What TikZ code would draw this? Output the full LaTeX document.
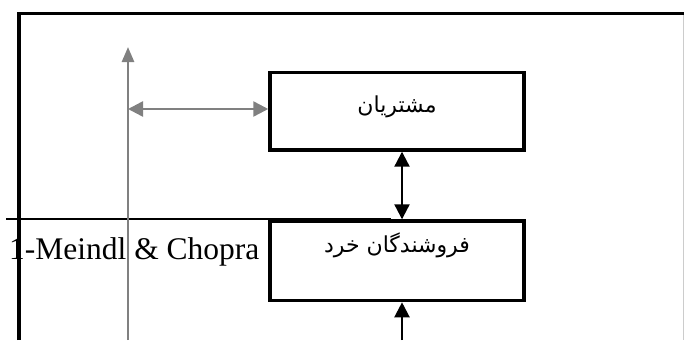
\documentclass[tikz,border=0pt]{standalone}
\usepackage{fontspec}
\setmainfont{Liberation Serif}
\newfontfamily\arabicfont[Script=Arabic]{DejaVu Sans}
\TeXXeTstate=1
\usetikzlibrary{arrows.meta}
\definecolor{linkgray}{HTML}{808080}
\tikzset{
  box/.style={draw=black, line width=3.5pt, minimum width=254pt, inner sep=0pt},
  boxlabel/.style={anchor=base, inner sep=0pt, font=\arabicfont\fontsize{22}{24}\selectfont},
  flow/.style={draw=black, line width=2.2pt, -{Triangle[length=15pt,width=15pt]}},
  infoflow/.style={draw=linkgray, line width=2.5pt, -{Triangle[length=15pt,width=12pt]}},
  frameline/.style={draw=black, line width=3.5pt},
  ruleline/.style={draw=black, line width=1.6pt},
}
\begin{document}
\begin{tikzpicture}[x=1pt, y=-1pt]
  \useasboundingbox (0,0) rectangle (684,340);

  % citation under the rule
  \node[anchor=base west, inner sep=0pt, font=\fontsize{31.5}{34}\selectfont] (cite) at (9,259) {1-Meindl \& Chopra};

  % page frame and rule
  \draw[frameline] (19,340) -- (19,13.5) -- (684,13.5);
  \draw[draw=black!20, line width=1pt] (683.5,15) -- (683.5,340);
  \draw[ruleline] (6,219) -- (391,219);

  % stages of the chain
  \node[box, minimum height=77.5pt] (cust) at (397,111.2) {};
  \node[boxlabel] (custlabel) at ([yshift=-1pt]cust.center) {\beginR مشتریان\endR};
  \node[box, minimum height=79.5pt] (retail) at (397,260.8) {};
  \node[boxlabel] (retaillabel) at ([yshift=-33pt]retail.north) {\beginR فروشندگان خرد\endR};

  % material flows between stages
  \coordinate (below) at (402,340);
  \draw[flow, {Triangle[length=15pt,width=15pt]}-{Triangle[length=15pt,width=15pt]}]
    ([xshift=5pt]cust.south) -- ([xshift=5pt]retail.north);
  \draw[flow] (below) -- (below |- retail.south);

  % information flow
  \coordinate (infobase) at (128,340);
  \coordinate (infotop) at (128,47);
  \coordinate (infojoin) at (128,109);
  \draw[infoflow] (infobase) -- (infotop);
  \draw[infoflow, {Triangle[length=15pt,width=15pt]}-{Triangle[length=15pt,width=15pt]}]
    (infojoin) -- (infojoin -| cust.west);
\end{tikzpicture}
\end{document}
